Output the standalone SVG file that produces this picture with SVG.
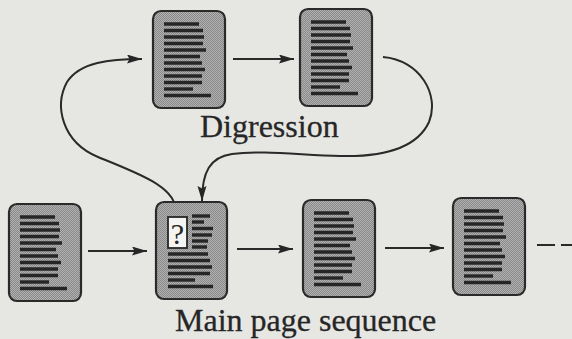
<svg xmlns="http://www.w3.org/2000/svg" width="572" height="339" viewBox="0 0 572 339">
<style>
.pg{fill:url(#dots);stroke:#2a2a2a;stroke-width:2.2}
.ln{stroke:#262626;stroke-width:3.4;stroke-linecap:butt}
.cn{fill:none;stroke:#2a2a2a;stroke-width:2}
.lbl{font-family:"Liberation Serif","Times New Roman",serif;font-size:32px;fill:#262626;stroke:#262626;stroke-width:0.3}
</style>
<defs>
<pattern id="dots" width="2" height="2" patternUnits="userSpaceOnUse">
<rect width="2" height="2" fill="#b2b2b2"/>
<rect width="1" height="1" fill="#888888"/>
<rect x="1" y="1" width="1" height="1" fill="#888888"/>
</pattern>
<marker id="ah" markerWidth="16" markerHeight="10" refX="15" refY="4.5" orient="auto" markerUnits="userSpaceOnUse">
<path d="M0,0 L15,4.5 L0,9 L2.5,4.5 Z" fill="#262626"/>
</marker>
<g id="page">
<rect class="pg" x="0" y="0" width="72" height="97" rx="8"/>
<g class="ln">
<line x1="11" y1="13" x2="46" y2="13"/>
<line x1="11" y1="19.5" x2="50" y2="19.5"/>
<line x1="11" y1="26" x2="51" y2="26"/>
<line x1="11" y1="32.5" x2="50" y2="32.5"/>
<line x1="11" y1="39" x2="53" y2="39"/>
<line x1="11" y1="45.5" x2="47" y2="45.5"/>
<line x1="11" y1="52" x2="49" y2="52"/>
<line x1="11" y1="58.5" x2="52" y2="58.5"/>
<line x1="11" y1="65" x2="49" y2="65"/>
<line x1="11" y1="71.5" x2="49" y2="71.5"/>
<line x1="11" y1="78" x2="40" y2="78"/>
<line x1="11" y1="84.5" x2="58" y2="84.5"/>
</g>
</g>
</defs>
<rect width="572" height="339" fill="#e6e6e3"/>
<g id="connectors">
<line class="cn" x1="233" y1="59" x2="294" y2="59" marker-end="url(#ah)"/>
<path class="cn" d="M175,217 L175,207 C173,186 135,172 98,157 C62,142 54,106 67,82 C80,62 110,59 142,59" marker-end="url(#ah)"/>
<path class="cn" d="M383,57 C420,60 440,95 429,122 C416,150 380,157 340,156 C300,155 262,150 232,154 C210,157 202,172 202,201" marker-end="url(#ah)"/>
<line class="cn" x1="88" y1="251" x2="147" y2="251" marker-end="url(#ah)"/>
<line class="cn" x1="237" y1="249" x2="293" y2="249" marker-end="url(#ah)"/>
<line class="cn" x1="385" y1="248" x2="444" y2="248" marker-end="url(#ah)"/>
<line class="cn" x1="537" y1="245" x2="572" y2="245" stroke-dasharray="18 6" stroke-width="2.4"/>
</g>
<g id="dig1"><use href="#page" x="153" y="11"/></g>
<g id="dig2"><use href="#page" x="300" y="9"/></g>
<g id="main1"><use href="#page" x="9" y="204"/></g>
<g id="main2">
<rect class="pg" x="156" y="202" width="71" height="97" rx="8"/>
<rect x="168" y="217" width="19" height="31" fill="#f4f4f2" stroke="#262626" stroke-width="1.8"/>
<text x="177.5" y="244" text-anchor="middle" font-family="Liberation Serif, serif" font-size="30" fill="#262626">?</text>
<g class="ln">
<line x1="192" y1="216" x2="210" y2="216"/>
<line x1="192" y1="222" x2="204" y2="222"/>
<line x1="192" y1="228.5" x2="213" y2="228.5"/>
<line x1="192" y1="235" x2="212" y2="235"/>
<line x1="192" y1="241" x2="208" y2="241"/>
<line x1="192" y1="247" x2="207" y2="247"/>
<line x1="168" y1="254" x2="208" y2="254"/>
<line x1="168" y1="260.5" x2="210" y2="260.5"/>
<line x1="168" y1="267" x2="212" y2="267"/>
<line x1="168" y1="273.5" x2="210" y2="273.5"/>
<line x1="168" y1="280" x2="195" y2="280"/>
<line x1="168" y1="286.5" x2="213" y2="286.5"/>
</g>
</g>
<g id="main3"><use href="#page" x="303" y="200"/></g>
<g id="main4"><use href="#page" x="453" y="198"/></g>
<g id="labels">
<text class="lbl" x="200" y="137">Digression</text>
<text class="lbl" x="175" y="331">Main page sequence</text>
</g>
</svg>
